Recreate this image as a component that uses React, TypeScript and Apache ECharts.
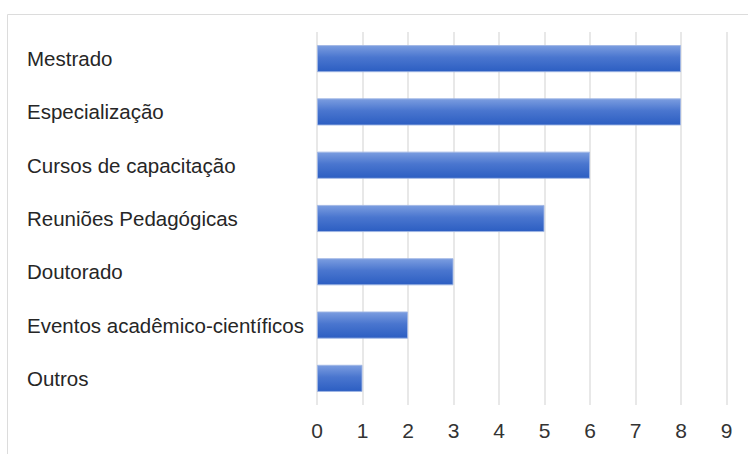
import React, { useEffect, useRef } from "react";
import * as echarts from "echarts";

const categories = [
  "Mestrado",
  "Especialização",
  "Cursos de capacitação",
  "Reuniões Pedagógicas",
  "Doutorado",
  "Eventos acadêmico-científicos",
  "Outros",
];
const values = [8, 8, 6, 5, 3, 2, 1];
const xMin = 0;
const xMax = 9;
const xInterval = 1;

export default function App() {
  const ref = useRef<HTMLDivElement>(null);
  useEffect(() => {
    if (!ref.current) return;
    const chart = echarts.init(ref.current, null, { renderer: "svg" });
    chart.setOption({
      animation: false,
      backgroundColor: "#ffffff",
      textStyle: { fontFamily: "Liberation Sans, Arial, sans-serif" },
      graphic: [
        {
          type: "rect",
          left: 5,
          top: 12,
          shape: { x: 0, y: 0, width: 800, height: 500 },
          style: { fill: "none", stroke: "#dcdcdc", lineWidth: 1 },
          silent: true,
          z: -1,
        },
      ],
      grid: { left: 317, right: 21.5, top: 32, bottom: 49, containLabel: false },
      xAxis: {
        type: "value",
        min: xMin,
        max: xMax,
        interval: xInterval,
        axisLine: { show: false },
        axisTick: { show: false },
        splitLine: { show: true, lineStyle: { color: "#e0e0e0", width: 1.5 } },
        axisLabel: {
          color: "#333333",
          fontSize: 21,
          margin: 15,
          fontFamily: "Liberation Sans, Arial, sans-serif",
        },
      },
      yAxis: {
        type: "category",
        data: categories,
        inverse: true,
        axisLine: { show: false },
        axisTick: { show: false },
        splitLine: { show: false },
        axisLabel: {
          color: "#262626",
          fontSize: 20.5,
          align: "left",
          margin: 290,
          fontFamily: "Liberation Sans, Arial, sans-serif",
        },
      },
      series: [
        {
          type: "bar",
          data: values,
          barWidth: "51%",
          itemStyle: {
            color: new echarts.graphic.LinearGradient(0, 0, 0, 1, [
              { offset: 0, color: "#7b9de0" },
              { offset: 0.45, color: "#4a76cf" },
              { offset: 1, color: "#2c5ec2" },
            ]),
            borderColor: "rgba(160,182,228,0.9)",
            borderWidth: 1,
          },
        },
      ],
    });
    return () => chart.dispose();
  }, []);
  return (
    <div
      ref={ref}
      style={{ position: "absolute", left: 0, top: 0, width: 748, height: 454 }}
    />
  );
}
